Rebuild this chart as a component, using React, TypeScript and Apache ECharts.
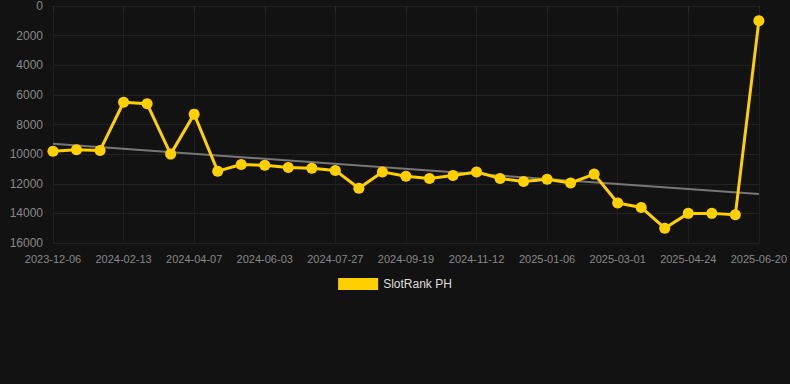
import React, { useEffect, useRef } from "react";
import * as echarts from "echarts";

const dates = [
  "2023-12-06", "2023-12-29", "2024-01-21", "2024-02-13", "2024-03-02", "2024-03-20",
  "2024-04-07", "2024-04-25", "2024-05-15", "2024-06-03", "2024-06-21", "2024-07-09",
  "2024-07-27", "2024-08-14", "2024-09-01", "2024-09-19", "2024-10-07", "2024-10-25",
  "2024-11-12", "2024-11-30", "2024-12-18", "2025-01-06", "2025-01-24", "2025-02-11",
  "2025-03-01", "2025-03-19", "2025-04-06", "2025-04-24", "2025-05-12", "2025-05-30",
  "2025-06-20",
];

const ranks = [
  9800, 9700, 9750, 6500, 6600, 10000,
  7300, 11150, 10700, 10750, 10900, 10950,
  11100, 12300, 11200, 11500, 11650, 11450,
  11200, 11650, 11850, 11700, 11950, 11350,
  13300, 13600, 15000, 14000, 14000, 14100,
  1000,
];

const trendStart = 9300;
const trendEnd = 12700;

const seriesName = "SlotRank PH";

export default function App() {
  const ref = useRef<HTMLDivElement>(null);
  useEffect(() => {
    if (!ref.current) return;
    const chart = echarts.init(ref.current, null, { renderer: "svg" });
    chart.setOption({
      animation: false,
      backgroundColor: "#121212",
      grid: { left: 53, right: 29, top: 6, bottom: 141, containLabel: false },
      legend: {
        data: [{ name: seriesName, icon: "rect" }],
        bottom: 89,
        left: "center",
        itemWidth: 40,
        itemHeight: 12,
        itemGap: 5,
        textStyle: { color: "#dddddd", fontSize: 12, fontFamily: "Arial, Liberation Sans, sans-serif" },
      },
      xAxis: {
        type: "category",
        data: dates,
        boundaryGap: false,
        axisLine: { show: true, lineStyle: { color: "#222222" } },
        axisTick: { show: true, interval: 2, lineStyle: { color: "#2a2a2a" } },
        axisLabel: {
          interval: 2,
          color: "#888888",
          fontSize: 11,
          margin: 10,
          fontFamily: "Arial, Liberation Sans, sans-serif",
        },
        splitLine: { show: true, interval: 2, lineStyle: { color: "#1f1f1f" } },
      },
      yAxis: {
        type: "value",
        inverse: true,
        min: 0,
        max: 16000,
        interval: 2000,
        axisLine: { show: false },
        axisTick: { show: false },
        axisLabel: {
          color: "#888888",
          fontSize: 12,
          margin: 10,
          formatter: (v: number) => String(v),
          fontFamily: "Arial, Liberation Sans, sans-serif",
        },
        splitLine: { show: true, lineStyle: { color: "#222222" } },
      },
      series: [
        {
          name: "trend",
          type: "line",
          data: [
            [dates[0], trendStart],
            [dates[dates.length - 1], trendEnd],
          ],
          symbol: "none",
          lineStyle: { color: "#777777", width: 2 },
          silent: true,
          z: 1,
        },
        {
          name: seriesName,
          type: "line",
          data: ranks,
          symbol: "circle",
          symbolSize: 11,
          itemStyle: { color: "#FFD000" },
          lineStyle: { color: "#FFD000", width: 3 },
          z: 2,
        },
      ],
    });
    return () => chart.dispose();
  }, []);
  return <div ref={ref} style={{ width: 790, height: 384, position: "absolute", left: 0, top: 0 }} />;
}
